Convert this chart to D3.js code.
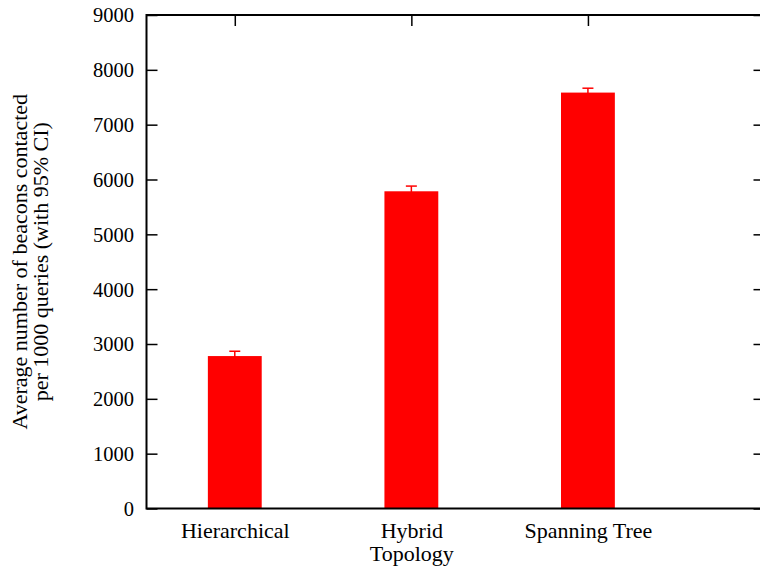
<!DOCTYPE html>
<html>
<head>
<meta charset="utf-8">
<script src="https://cdn.jsdelivr.net/npm/d3@7"></script>
<style>
  html, body { margin: 0; padding: 0; background: #fff; }
  svg { display: block; }
  text { font-family: "Liberation Serif", "DejaVu Serif", serif; fill: #000; }
</style>
</head>
<body>
<svg id="chart" width="760" height="568"></svg>
<script>
// Topologies compared and their mean beacon counts with 95% CI half-widths
const categories = ["Hierarchical", "Hybrid\nTopology", "Spanning Tree"];
const meanBeacons = [2780, 5785, 7585];
const ciHalfWidth = [88, 95, 80];
const yTicks = [0, 1000, 2000, 3000, 4000, 5000, 6000, 7000, 8000, 9000];

const svg = d3.select("#chart");
const frame = { left: 146.5, right: 764.5, top: 15, bottom: 508.5 };
const tickLen = 11;

const x = d3.scaleLinear().domain([-0.5, 3.0]).range([frame.left, frame.right]);
const y = d3.scaleLinear().domain([0, 9000]).range([frame.bottom, frame.top]);
const barWidth = 0.305;

const data = categories.map((c, i) => ({ label: c, idx: i, v: meanBeacons[i], ci: ciHalfWidth[i] }));

// Bars
svg.append("g").selectAll("rect").data(data).join("rect")
  .attr("x", d => x(d.idx - barWidth / 2))
  .attr("width", d => x(d.idx + barWidth / 2) - x(d.idx - barWidth / 2))
  .attr("y", d => y(d.v))
  .attr("height", d => y(0) - y(d.v))
  .attr("fill", "#ff0000");

// Error bars
const eb = svg.append("g").attr("stroke", "#ff0000").attr("stroke-width", 1.5);
eb.selectAll("line.stem").data(data).join("line").attr("class", "stem")
  .attr("x1", d => x(d.idx)).attr("x2", d => x(d.idx))
  .attr("y1", d => y(d.v - d.ci)).attr("y2", d => y(d.v + d.ci));
eb.selectAll("line.cap").data(data).join("line").attr("class", "cap")
  .attr("x1", d => x(d.idx) - 5.5).attr("x2", d => x(d.idx) + 5.5)
  .attr("y1", d => y(d.v + d.ci)).attr("y2", d => y(d.v + d.ci));

// Left axis with labels, ticks pointing inward
const yAxis = d3.axisLeft(y).tickValues(yTicks).tickSize(-tickLen).tickFormat(d3.format("d"));
const gy = svg.append("g").attr("transform", `translate(${frame.left},0)`).call(yAxis);
gy.select(".domain").remove();
gy.selectAll(".tick line").attr("stroke", "#000").attr("stroke-width", 1.5);
gy.selectAll(".tick text").style("font-size", "20.5px").attr("dy", "0.34em").attr("x", -12.5);

// Right mirror ticks
const gyr = svg.append("g").attr("transform", `translate(${frame.right},0)`)
  .call(d3.axisRight(y).tickValues(yTicks).tickSize(-tickLen).tickFormat(""));
gyr.select(".domain").remove();
gyr.selectAll(".tick line").attr("stroke", "#000").attr("stroke-width", 1.5);

// Top mirror ticks at category centres
const gxt = svg.append("g").attr("transform", `translate(0,${frame.top})`)
  .call(d3.axisTop(x).tickValues(d3.range(categories.length)).tickSize(-tickLen).tickFormat(""));
gxt.select(".domain").remove();
gxt.selectAll(".tick line").attr("stroke", "#000").attr("stroke-width", 1.5);

// Bottom axis: category labels (multi-line)
const gx = svg.append("g").attr("transform", `translate(0,${frame.bottom})`)
  .call(d3.axisBottom(x).tickValues(d3.range(categories.length)).tickSize(0).tickFormat(""));
gx.select(".domain").remove();
gx.selectAll(".tick").each(function (d) {
  const lines = categories[d].split("\n");
  const t = d3.select(this).append("text").attr("text-anchor", "middle").style("font-size", "22px");
  lines.forEach((ln, k) => t.append("tspan").attr("x", 0).attr("y", 29.5 + k * 23).text(ln));
});

// Frame: left, top and bottom borders
const border = svg.append("g").attr("stroke", "#000").attr("stroke-width", 2).attr("fill", "none");
border.append("path")
  .attr("d", `M${frame.right},${frame.top}H${frame.left}V${frame.bottom}H${frame.right}V${frame.top}`);

// Y axis title
const yTitle = svg.append("text")
  .attr("transform", `translate(0,${(frame.top + frame.bottom) / 2}) rotate(-90)`)
  .attr("text-anchor", "middle").style("font-size", "22px");
yTitle.append("tspan").attr("x", 0).attr("y", 27).text("Average number of beacons contacted");
yTitle.append("tspan").attr("x", 0).attr("y", 48).text("per 1000 queries (with 95% CI)");
</script>
</body>
</html>
